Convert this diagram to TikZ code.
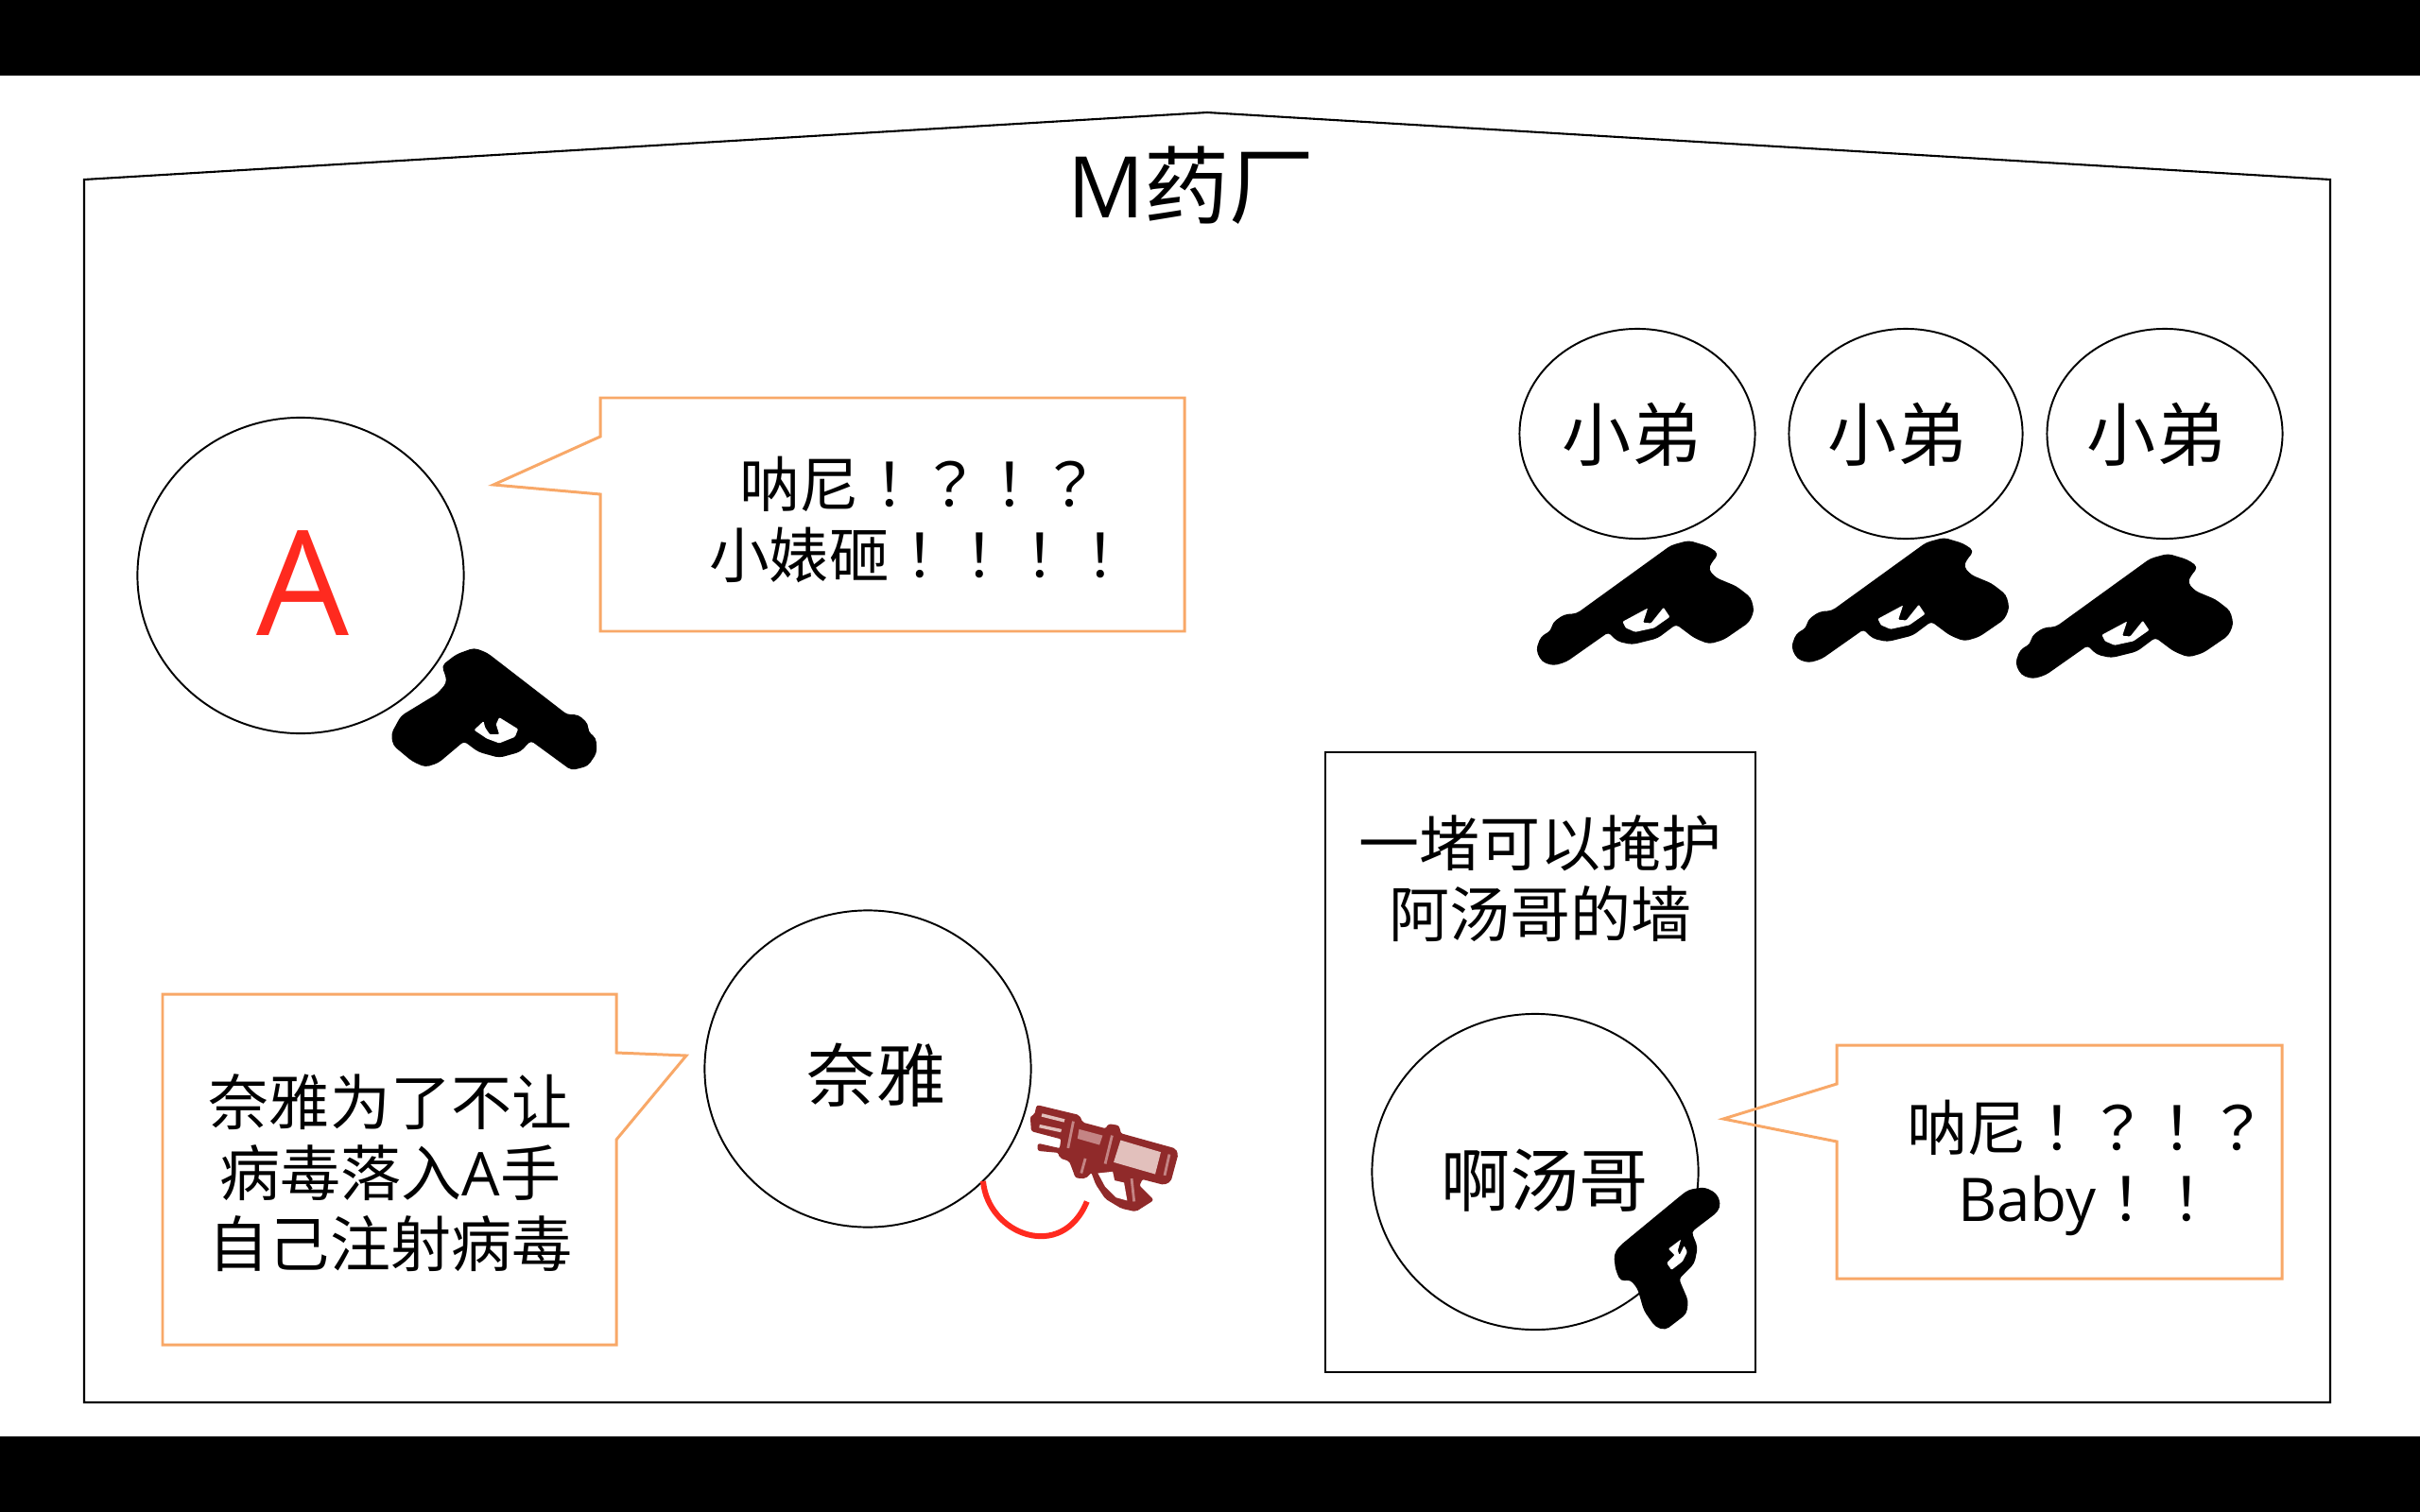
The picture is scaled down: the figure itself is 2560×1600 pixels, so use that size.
\documentclass[tikz,border=0pt]{standalone}
\usepackage{fontspec}
\usetikzlibrary{shapes.geometric}
\setmainfont{Open Sans}
\newfontfamily\cjk{Noto Sans CJK SC}
\newfontfamily\cjkp{Noto Sans CJK TC}
\newcommand{\zh}[1]{{\cjk #1}}
\newcommand{\pn}[1]{{\cjkp #1}}
\definecolor{orangeline}{HTML}{F8A868}
\definecolor{redarc}{HTML}{FF2A1F}
\definecolor{rifle}{HTML}{902A2A}
\definecolor{rifleA}{HTML}{E2C0BC}
\definecolor{rifleB}{HTML}{C48484}
\newcommand{\gunA}{
 \path[gunstyle]
 (205,135)--(250,100)--(305,80)--(345,95)--(600,292)--(635,292)--(665,320)--(665,345)--(690,365)--(692,410)--(665,450)--(615,463)--(485,368)--(450,405)--(385,423)--(320,405)--(273,370)--(190,440)--(150,453)--(110,435)--(50,385)--(45,350)--(75,295)--(190,225)--(220,190)--(218,165)--cycle;
 \path[holestyle]
 (305,338)--(335,310)--(340,330)--(355,352)--(385,352)--(375,320)--(385,298)--(445,335)--(435,360)--(385,380)--(345,365)--cycle;}
\newcommand{\gunB}{
 \path[gunstyle]
 (530,90)--(590,108)--(622,130)--(600,155)--(590,180)--(615,208)--(680,235)--(725,270)--(735,310)--(720,345)--(640,400)--(595,413)--(550,395)--(490,350)--(430,395)--(350,415)--(305,405)--(275,375)--(140,470)--(100,482)--(65,470)--(48,435)--(62,395)--(95,375)--(100,350)--(135,325)--(175,322)--(475,105)--cycle;
 \path[holestyle]
 (320,345)--(400,302)--(385,348)--(410,350)--(430,325)--(450,300)--(470,330)--(420,365)--(360,378)--(330,365)--cycle;}
\newcommand{\gunC}{
 \path[gunstyle]
 (300,75)--(320,60)--(370,52)--(405,70)--(418,100)--(410,125)--(325,190)--(345,240)--(335,290)--(285,340)--(315,410)--(310,450)--(245,500)--(215,490)--(180,440)--(160,370)--(135,340)--(105,345)--(90,310)--(85,265)--(100,240)--cycle;
 \path[holestyle]
 (255,245)--(295,215)--(285,250)--(290,265)--(305,235)--(315,255)--(300,285)--(265,312)--(250,290)--(275,265)--cycle;}
\tikzset{
 zoomed/.style={x=0.0033333cm,y=-0.0033333cm},
 gunstyle/.style={fill=black,draw=black,line width=0.6pt,line join=round,rounded corners=1.2pt},
 holestyle/.style={fill=white,rounded corners=0.3pt},
 person/.style={draw=black,line width=0.55pt,ellipse,inner sep=0pt,outer sep=0pt},
 bubble/.style={draw=orangeline,line width=0.85pt,line join=miter},
 frame/.style={draw=black,line width=0.55pt},
 txt/.style={inner sep=0pt,align=center,text=black},
 big/.style={font=\fontsize{25.6pt}{30pt}\selectfont},
 mid/.style={font=\fontsize{20.8pt}{24pt}\selectfont},
 sma/.style={font=\fontsize{18.2pt}{21.3pt}\selectfont},
 smb/.style={font=\fontsize{18.1pt}{21.3pt}\selectfont},
}
\begin{document}
\begin{tikzpicture}[x=0.01cm,y=-0.01cm]
\useasboundingbox (0,0) rectangle (2560,1600);
\fill[white] (0,0) rectangle (2560,1600);
\fill[black] (0,0) rectangle (2560,80);
\fill[black] (0,1520) rectangle (2560,1600);
% factory outline
\draw[frame,line width=0.6pt] (89,190)--(1277,119)--(2465,190)--(2465,1484)--(89,1484)--cycle;
\node[txt,big] (title) at (1260,196) {M\zh{药厂}};
% wall
\draw[frame] (1402,796) rectangle (1857,1452);
\node[txt,sma] (walltxt) at (1629,930) {\zh{一堵可以掩护}\\[0pt]\zh{阿汤哥的墙}};
% people
\node[person,minimum width=3.45cm,minimum height=3.34cm] (pa) at (318,609) {};
\node[txt,text=redarc,font=\fontsize{44pt}{50pt}\selectfont] (pal) at (320,617) {A};
\node[person,minimum width=3.45cm,minimum height=3.35cm] (pn) at (918,1131) {};
\node[txt,mid] (pnl) at (927,1138) {\zh{奈雅}};
\node[person,minimum width=3.45cm,minimum height=3.34cm] (pt) at (1624,1240) {};
\node[txt,mid] (ptl) at (1634,1249) {\zh{啊汤哥}};
\node[person,minimum width=2.49cm,minimum height=2.22cm] (b1) at (1732,459) {};
\node[person,minimum width=2.47cm,minimum height=2.22cm] (b2) at (2016,459) {};
\node[person,minimum width=2.49cm,minimum height=2.22cm] (b3) at (2290,459) {};
\node[txt,mid] (b1l) at (1726,460) {\zh{小弟}};
\node[txt,mid] (b2l) at (2007,460) {\zh{小弟}};
\node[txt,mid] (b3l) at (2281,460) {\zh{小弟}};
% callouts
\draw[bubble] (635,421)--(1253,421)--(1253,668)--(635,668)--(635,523)--(522,513)--(635,462)--cycle;
\node[txt,smb] (c1) at (973,550) {\zh{呐尼}\pn{！？！？}\\\zh{小婊砸}\pn{！！！！}};
\draw[bubble] (172,1052)--(652,1052)--(652,1114)--(726,1117)--(652,1206)--(652,1423)--(172,1423)--cycle;
\node[txt,sma] (c2) at (413,1241) {\zh{奈雅为了不让}\\\zh{病毒落入}A\zh{手}\\\zh{自己注射病毒}};
\draw[bubble] (1943,1106)--(2414,1106)--(2414,1353)--(1943,1353)--(1943,1208)--(1823,1184)--(1943,1147)--cycle;
\node[txt,smb] (c3) at (2208,1236) {\zh{呐尼}\pn{！？！？}\\Baby\pn{！！}};
% guns
\begin{scope}[shift={(400,660)},zoomed]\gunA\end{scope}
\begin{scope}[shift={(1880,540)},zoomed]\gunB\end{scope}
\begin{scope}[shift={(1610,543)},zoomed]\gunB\end{scope}
\begin{scope}[shift={(2117,557)},zoomed]\gunB\end{scope}
\begin{scope}[shift={(1680,1240)},zoomed]\gunC\end{scope}
% red arc and rifle
\begin{scope}[shift={(1020,1140)},zoomed]
\draw[redarc,line width=1.7pt] (60,330) .. controls (75,500) and (310,590) .. (390,395);
\path[fill=rifle,draw=rifle,line width=0.4pt,line join=round,rounded corners=0.6pt] (232,90)--(365,122)--(375,145)--(450,165)--(460,150)--(490,155)--(497,180)--(670,228)--(678,245)--(655,330)--(635,340)--(565,322)--(555,345)--(600,390)--(545,425)--(500,415)--(450,385)--(420,340)--(405,300)--(385,320)--(355,318)--(345,290)--(335,265)--(305,255)--(300,238)--(235,232)--(235,212)--(305,228)--(310,195)--(215,170)--(212,125)--(225,120)--cycle;
\fill[white] (425,305)--(472,300)--(478,328)--(508,335)--(518,392)--(482,382)--(448,348)--cycle;
\fill[rifleA] (497,200)--(625,238)--(607,308)--(475,270)--cycle;
\fill[rifleB] (365,165)--(440,185)--(430,215)--(360,195)--cycle;
\fill[rifleA] (248,115)--(320,133)--(317,143)--(245,125)--cycle (240,150)--(310,165)--(307,175)--(238,160)--cycle;
\draw[rifleB,line width=0.8pt] (347,140)--(330,225) (470,185)--(448,275) (652,245)--(637,312) (532,322)--(540,395) (385,258)--(372,305);
\end{scope}
\end{tikzpicture}
\end{document}
